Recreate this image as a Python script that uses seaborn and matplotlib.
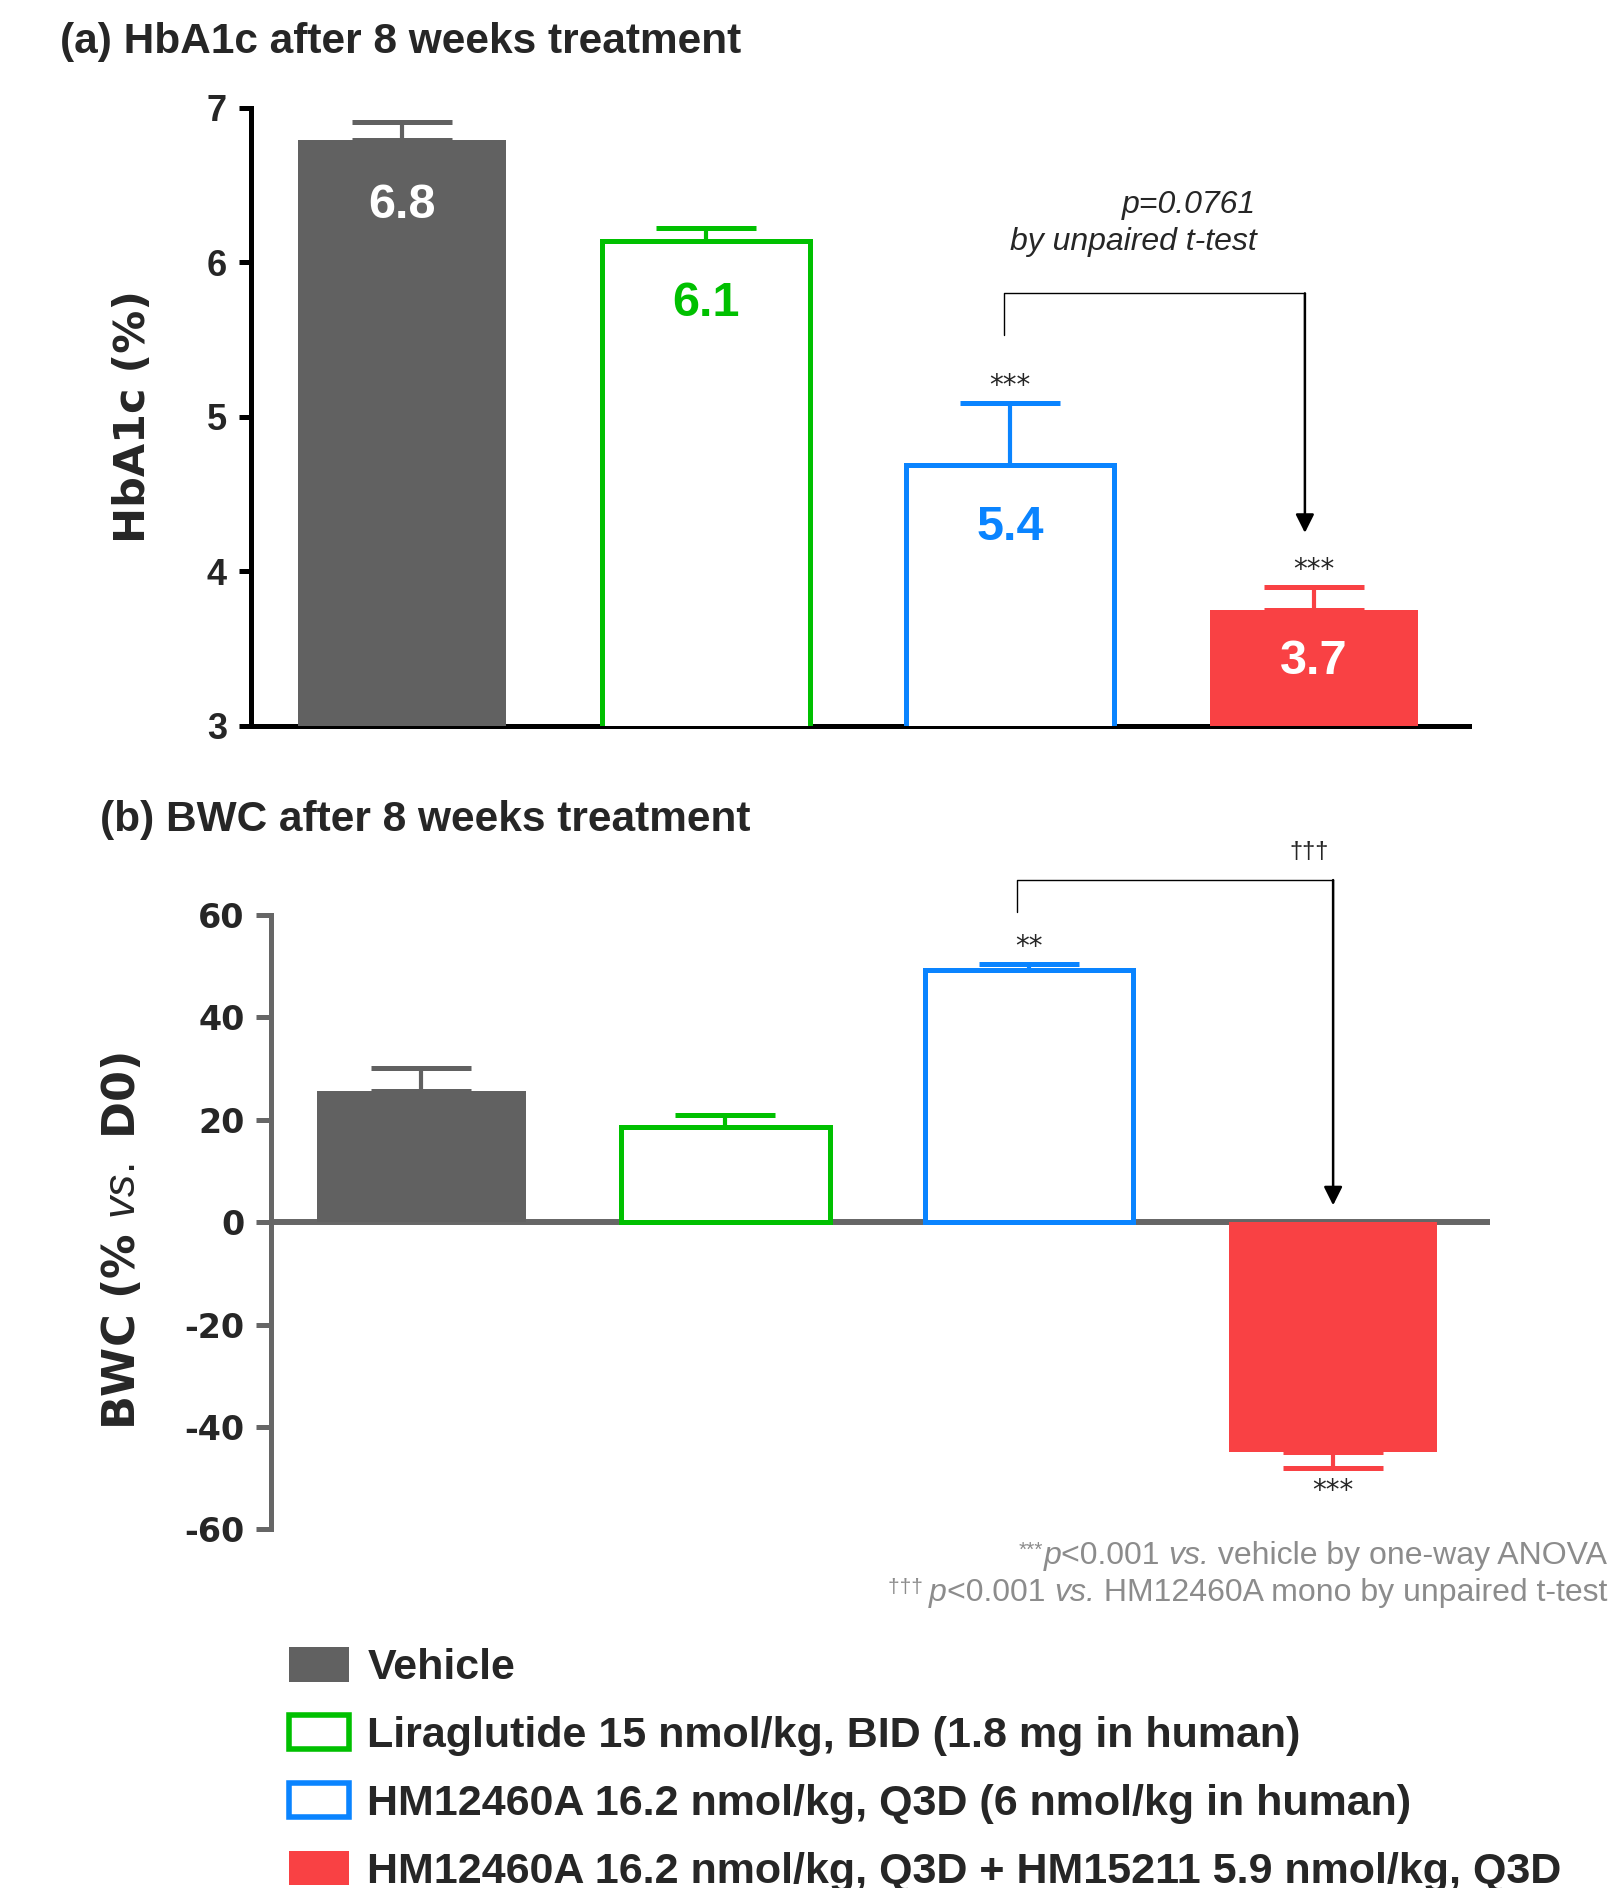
import numpy as np
import seaborn as sns
import matplotlib.pyplot as plt
from matplotlib.patches import Patch
from matplotlib.offsetbox import TextArea, HPacker, AnnotationBbox

groups = ["Vehicle", "Liraglutide", "HM12460A", "HM12460A + HM15211"]
legend_labels = [
    "Vehicle",
    "Liraglutide 15 nmol/kg, BID (1.8 mg in human)",
    "HM12460A 16.2 nmol/kg, Q3D (6 nmol/kg in human)",
    "HM12460A 16.2 nmol/kg, Q3D + HM15211 5.9 nmol/kg, Q3D",
]
colors = ["#616161", "#00c000", "#0a84ff", "#f94144"]
hollow = [False, True, True, False]

hba1c = [6.79, 6.14, 4.69, 3.75]
hba1c_err = [0.12, 0.08, 0.40, 0.15]
hba1c_text = ["6.8", "6.1", "5.4", "3.7"]
hba1c_text_color = ["white", "#00c000", "#0a84ff", "white"]
hba1c_stars = ["", "", "***", "***"]

bwc = [25.6, 18.6, 49.2, -44.9]
bwc_err = [4.5, 2.3, 1.2, 3.1]
bwc_stars = ["", "", "**", "***"]

sns.set_style("ticks")
plt.rcParams["font.family"] = ["Liberation Sans", "DejaVu Sans"]
plt.rcParams["mathtext.fontset"] = "custom"
plt.rcParams["mathtext.rm"] = "Liberation Sans"
plt.rcParams["mathtext.it"] = "Liberation Sans:italic"
plt.rcParams["axes.unicode_minus"] = False

fig = plt.figure(figsize=(16.09, 18.88), dpi=100)
ax1 = fig.add_axes([0.1557, 0.6155, 0.7573, 0.3273])
ax2 = fig.add_axes([0.1684, 0.1899, 0.7576, 0.3255])


def draw_bars(ax, values, errs):
    sns.barplot(x=groups, y=values, hue=groups, palette=colors, saturation=1,
                width=0.686, legend=False, ax=ax, zorder=3)
    for patch, c, h in zip(ax.patches, colors, hollow):
        if h:
            patch.set_facecolor("white")
            patch.set_edgecolor(c)
            patch.set_linewidth(3.6)
        else:
            patch.set_facecolor(c)
            patch.set_edgecolor(c)
            patch.set_linewidth(0)
    for i, (v, e, c) in enumerate(zip(values, errs, colors)):
        lo, hi = (0, e) if v >= 0 else (e, 0)
        ax.errorbar(i, v, yerr=[[lo], [hi]], fmt="none", ecolor=c, elinewidth=3,
                    capsize=36, capthick=3.6, zorder=2)


# (a) HbA1c
draw_bars(ax1, hba1c, hba1c_err)
ax1.set_ylim(3, 7)
ax1.set_xlim(-0.499, 3.51)
ax1.set_yticks([3, 4, 5, 6, 7])
ax1.set_xticks([])
ax1.set_xlabel("")
for s in ["top", "right"]:
    ax1.spines[s].set_visible(False)
for s in ["left", "bottom"]:
    ax1.spines[s].set_linewidth(3.6)
    ax1.spines[s].set_color("black")
ax1.tick_params(axis="y", length=9, width=3.6, pad=8, color="black")
for lab in ax1.get_yticklabels():
    lab.set_fontweight("bold")
    lab.set_fontsize(26)
ax1.set_ylabel("HbA1c (%)", fontfamily="DejaVu Sans", fontweight="bold", fontsize=31)
ax1.yaxis.set_label_coords(-0.079, 0.5)

label_drop = [0.39, 0.37, 0.37, 0.30]
for i, (v, t, c, d) in enumerate(zip(hba1c, hba1c_text, hba1c_text_color, label_drop)):
    ax1.text(i, v - d, t, ha="center", va="center_baseline", color=c, fontsize=35,
             fontweight="bold", zorder=5)
for i, (v, e, s) in enumerate(zip(hba1c, hba1c_err, hba1c_stars)):
    if s:
        ax1.text(i, v + e + 0.02, s, ha="center", va="bottom", fontsize=20,
                 fontfamily="DejaVu Sans")

ax1.plot([1.98, 1.98, 2.97], [5.53, 5.80, 5.80], color="black", lw=1)
ax1.annotate("", xy=(2.97, 4.25), xytext=(2.97, 5.80),
             arrowprops=dict(arrowstyle="-|>", color="black", lw=1.8, mutation_scale=28,
                             shrinkA=0, shrinkB=0))
ax1.text(2.81, 6.37, "p=0.0761", ha="right", va="center", fontsize=23, style="italic")
ax1.text(2.81, 6.13, "by unpaired t-test", ha="right", va="center", fontsize=23,
         style="italic")

# (b) BWC
ax2.axhline(0, color="#666666", lw=4.3, zorder=1)
draw_bars(ax2, bwc, bwc_err)
ax2.set_ylim(-60, 60)
ax2.set_xlim(-0.495, 3.516)
ax2.set_yticks([-60, -40, -20, 0, 20, 40, 60])
ax2.set_xticks([])
ax2.set_xlabel("")
for s in ["top", "right", "bottom"]:
    ax2.spines[s].set_visible(False)
ax2.spines["left"].set_linewidth(3.6)
ax2.spines["left"].set_color("#666666")
ax2.tick_params(axis="y", length=11, width=3.6, pad=8, color="#666666")
for lab in ax2.get_yticklabels():
    lab.set_fontfamily("DejaVu Sans")
    lab.set_fontweight("bold")
    lab.set_fontsize(24)
ax2.set_ylabel(r"BWC (% $\mathit{vs.}$ D0)", fontfamily="DejaVu Sans",
               fontweight="bold", fontsize=32)
ax2.yaxis.set_label_coords(-0.104, 0.47)

for i, (v, e, s) in enumerate(zip(bwc, bwc_err, bwc_stars)):
    if s and v >= 0:
        ax2.text(i, v + e + 0.6, s, ha="center", va="bottom", fontsize=20,
                 fontfamily="DejaVu Sans")
    elif s:
        ax2.text(i, v - e - 1.8, s, ha="center", va="top", fontsize=20,
                 fontfamily="DejaVu Sans")

ax2.plot([1.96, 1.96, 3.0], [60.5, 66.8, 66.8], color="black", lw=1, clip_on=False)
ax2.annotate("", xy=(3.0, 3.3), xytext=(3.0, 66.8),
             arrowprops=dict(arrowstyle="-|>", color="black", lw=1.8, mutation_scale=28,
                             shrinkA=0, shrinkB=0), annotation_clip=False)
ax2.text(2.92, 72.2, "\u2020\u2020\u2020", ha="center", va="center", fontsize=17)

# titles
fig.text(0.0373, 0.9778, "(a) HbA1c after 8 weeks treatment", ha="left", va="center",
         fontsize=30.5, fontweight="bold")
fig.text(0.0621, 0.5657, "(b) BWC after 8 weeks treatment", ha="left", va="center",
         fontsize=30.5, fontweight="bold")

# footnotes, built from pieces so the italic parts and the small marks sit right
note_grey = "#8c8c8c"


def footnote(pieces, y):
    boxes = []
    for txt, sty, size in pieces:
        boxes.append(TextArea(txt, textprops=dict(color=note_grey, fontsize=size, style=sty)))
    pack = HPacker(children=boxes, align="top", pad=0, sep=0)
    ab = AnnotationBbox(pack, (0.999, y), xycoords="figure fraction",
                        box_alignment=(1, 0.5), frameon=False, pad=0)
    fig.add_artist(ab)


footnote([("***", "normal", 15), ("p", "italic", 23), ("<0.001 ", "normal", 23),
          ("vs.", "italic", 23), (" vehicle by one-way ANOVA", "normal", 23)], 0.1759)
footnote([("\u2020\u2020\u2020 ", "normal", 15), ("p", "italic", 23),
          ("<0.001 ", "normal", 23), ("vs.", "italic", 23),
          (" HM12460A mono by unpaired t-test", "normal", 23)], 0.1562)

# legend
handles = []
for c, h in zip(colors, hollow):
    if h:
        handles.append(Patch(facecolor="white", edgecolor=c, linewidth=4))
    else:
        handles.append(Patch(facecolor=c, edgecolor=c, linewidth=0))
fig.legend(handles, legend_labels, loc="upper left", bbox_to_anchor=(0.1796, 0.1275),
           frameon=False, borderpad=0, borderaxespad=0, handlelength=1.4,
           handleheight=0.85, handletextpad=0.42, labelspacing=0.62,
           prop=dict(weight="bold", size=31))

fig.savefig("out.png", dpi=100, facecolor="white")
